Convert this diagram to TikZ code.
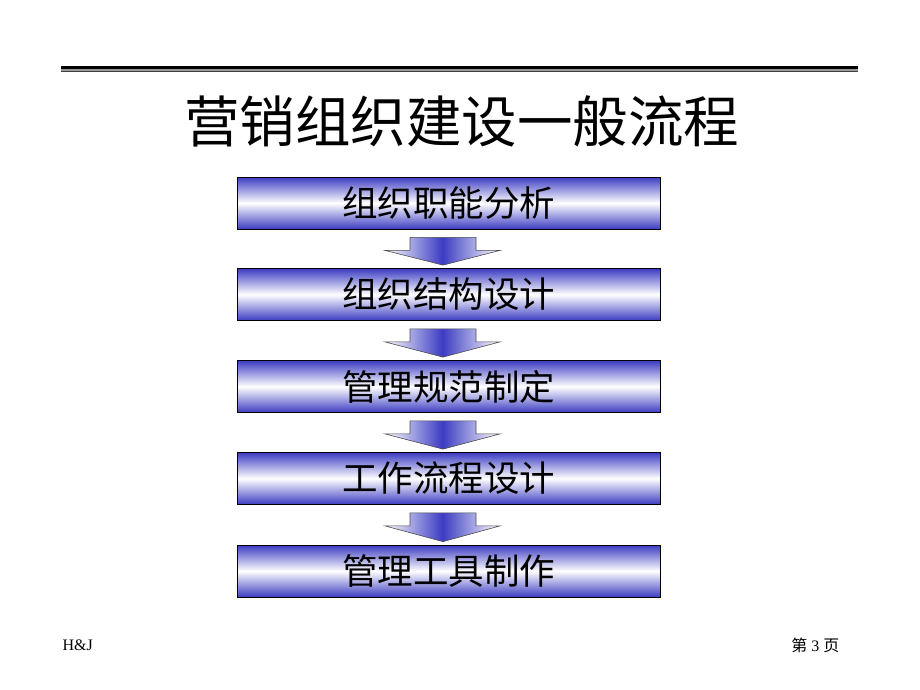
\documentclass[tikz,border=0pt]{standalone}
\usepackage{fontspec}
\setmainfont{Liberation Serif}
\newfontfamily\cjk{Noto Sans CJK SC}
\usetikzlibrary{calc}
\definecolor{boxblue}{RGB}{60,60,195}
\tikzset{
  stepbox/.style={draw=black, line width=0.8pt, minimum width=423pt, minimum height=52pt, inner sep=0pt,
    top color=boxblue, bottom color=boxblue, middle color=white,
    font=\cjk\fontsize{35.5}{40}\selectfont, text=black},
  flowarrow/.style={draw=black!70, line width=0.6pt, left color=white, right color=white, middle color=boxblue},
}
\newcommand{\flowarr}[2]{%
  \path[flowarrow] ($(#1.south)+(-38.5,8)$) -- ($(#1.south)+(27.5,8)$) -- ($(#1.south)+(27.5,21)$)
    -- ($(#1.south)+(51.5,21)$) -- ($(#2.north)+(-5.5,-3)$) -- ($(#1.south)+(-63.5,21)$)
    -- ($(#1.south)+(-38.5,21)$) -- cycle;}
\begin{document}
\begin{tikzpicture}[x=1pt,y=-1pt]
\useasboundingbox (0,0) rectangle (920,690);
\fill[black] (61,66) rectangle (858,69.5);
\fill[black!40] (61,69.5) rectangle (858,71);
\fill[black!75] (61,71) rectangle (858,72);
\node[font=\cjk\fontsize{55.5}{62}\selectfont] (title) at (461.5,121) {营销组织建设一般流程};
\node[stepbox] (s1) at (448.5,203) {组织职能分析};
\node[stepbox] (s2) at (448.5,294.5) {组织结构设计};
\node[stepbox] (s3) at (448.5,386.5) {管理规范制定};
\node[stepbox] (s4) at (448.5,478.5) {工作流程设计};
\node[stepbox] (s5) at (448.5,571) {管理工具制作};
\flowarr{s1}{s2}
\flowarr{s2}{s3}
\flowarr{s3}{s4}
\flowarr{s4}{s5}
\node[font=\fontsize{16}{19}\selectfont, anchor=west] (hj) at (59,645) {H\&J};
\node[font=\fontsize{16}{19}\selectfont, anchor=east] (pg) at (843,645) {{\cjk 第} 3 {\cjk 页}};
\end{tikzpicture}
\end{document}
